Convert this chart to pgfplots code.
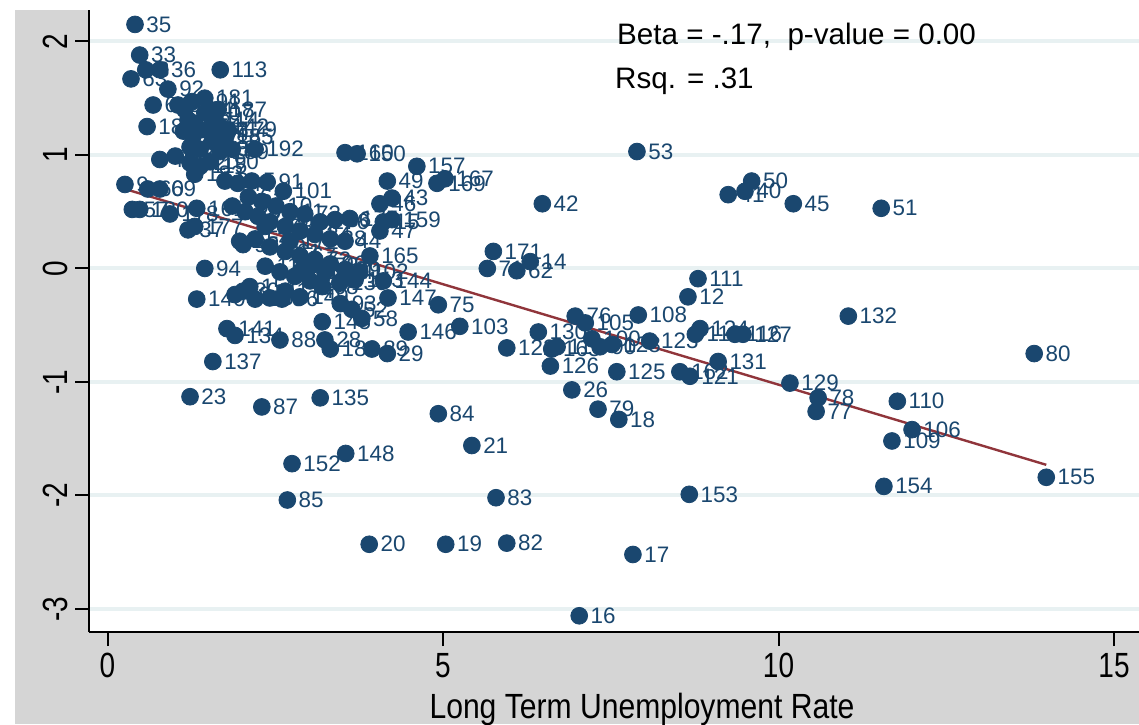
\documentclass[border=0pt]{standalone}
\usepackage{pgfplots}
\pgfplotsset{compat=1.18}
\usepackage{fontspec}
\setmainfont{Liberation Sans}
\definecolor{navy}{RGB}{26,71,111}
\definecolor{maroonS}{RGB}{144,53,59}
\definecolor{bggray}{RGB}{213,213,213}
\definecolor{gridc}{RGB}{232,241,242}
\newcommand\nar[1]{\scalebox{0.8}[1]{#1}}
\pgfplotstableread{
x y lab
0.41 2.15 35
0.48 1.88 33
0.57 1.75 3
0.78 1.75 36
0.35 1.67 63
1.68 1.75 113
0.90 1.58 92
0.68 1.44 64
1.45 1.50 181
0.59 1.25 184
1.80 1.22 179
1.75 1.16 185
2.20 1.05 192
1.86 1.05 8
1.30 0.83 183
2.38 0.76 91
2.62 0.68 101
0.26 0.74 9
0.78 0.70 69
0.60 0.70 60
0.37 0.52 57
0.48 0.52 180
0.93 0.48 178
1.33 0.53 161
1.20 0.34 37
1.30 0.37 177
2.02 0.21 95
1.45 0.00 94
1.33 -0.27 140
1.78 -0.53 141
1.90 -0.59 134
2.57 -0.63 88
1.57 -0.82 137
1.23 -1.13 23
2.30 -1.22 87
3.17 -1.14 135
2.75 -1.72 152
3.55 -1.63 148
2.68 -2.04 85
3.90 -2.43 20
5.04 -2.43 19
5.95 -2.42 82
5.79 -2.02 83
4.93 -1.28 84
5.43 -1.56 21
7.03 -3.06 16
7.83 -2.52 17
8.67 -1.99 153
11.57 -1.92 154
13.99 -1.84 155
11.69 -1.52 109
11.99 -1.42 106
11.77 -1.17 110
10.56 -1.26 77
10.59 -1.14 78
10.17 -1.01 129
13.81 -0.75 80
11.04 -0.42 132
9.10 -0.82 131
8.68 -0.95 121
8.53 -0.91 162
7.59 -0.91 125
9.47 -0.58 127
8.83 -0.53 124
8.76 -0.58 119
9.35 -0.58 116
8.08 -0.64 123
7.91 -0.41 108
8.65 -0.25 12
8.80 -0.09 111
7.52 -0.67 128
7.22 -0.62 100
7.34 -0.69 90
6.97 -0.42 76
7.12 -0.48 105
6.42 -0.56 130
5.95 -0.70 122
6.62 -0.71 163
6.70 -0.69 118
6.60 -0.86 126
6.92 -1.07 26
7.31 -1.24 79
7.62 -1.33 18
5.25 -0.51 103
4.48 -0.56 146
4.93 -0.32 75
4.18 -0.26 147
4.11 -0.11 144
3.79 -0.44 58
3.47 -0.31 93
3.64 -0.36 52
3.20 -0.47 145
3.24 -0.63 28
3.32 -0.71 182
3.94 -0.71 89
4.17 -0.75 29
3.91 0.11 165
3.61 0.44 175
4.11 0.41 15
4.24 0.43 159
4.06 0.33 47
4.06 0.57 46
4.24 0.62 43
4.17 0.77 49
4.61 0.90 157
4.91 0.75 169
5.03 0.79 167
3.54 1.02 160
3.72 1.01 150
6.48 0.57 42
5.75 0.15 171
5.66 0.00 71
6.10 -0.02 62
6.30 0.06 14
7.89 1.03 53
9.60 0.77 50
9.50 0.68 40
9.25 0.65 41
10.22 0.57 45
11.53 0.53 51
3.20 -0.16 68
2.60 -0.27 66
2.42 -0.26 56
2.20 -0.27 156
1.90 -0.23 39
2.02 -0.20 30
1.05 1.44 97
1.15 1.40 104
1.26 1.47 191
1.20 1.31 74
1.30 1.28 98
1.45 1.37 107
1.56 1.31 114
1.65 1.40 187
1.13 1.21 170
1.27 1.16 117
1.38 1.22 173
1.53 1.21 27
1.68 1.25 142
1.23 1.07 81
1.38 1.05 186
1.56 1.12 188
1.68 1.03 189
0.78 0.96 48
1.01 0.99 55
1.23 0.93 32
1.38 0.90 115
1.53 0.94 190
1.75 0.77 2
1.94 0.75 4
2.15 0.77 5
2.10 0.63 6
2.30 0.59 7
2.51 0.55 10
2.72 0.50 11
2.94 0.48 73
3.17 0.41 176
3.39 0.43 86
1.86 0.55 13
2.05 0.50 70
2.24 0.46 22
2.42 0.41 24
2.65 0.37 25
2.87 0.33 31
3.09 0.30 34
3.32 0.26 38
3.54 0.24 44
1.97 0.24 1
2.20 0.26 54
2.42 0.19 59
2.65 0.15 61
2.87 0.11 67
3.09 0.08 72
3.32 0.04 96
3.54 -0.01 99
3.76 -0.03 102
2.35 0.02 112
2.57 -0.03 133
2.79 -0.07 136
3.02 -0.11 138
3.46 -0.13 139
3.69 -0.10 143
2.87 -0.25 149
2.12 -0.16 151
3.02 0.02 158
3.24 -0.03 164
2.87 -0.03 166
2.35 0.37 168
2.72 0.24 172
2.65 -0.20 174
}\pts
\begin{document}
\begin{tikzpicture}
\useasboundingbox (0,0) rectangle (569.5pt,362pt);
\fill[bggray] (7.5pt,0) rectangle (569.5pt,357pt);
\begin{axis}[
  at={(44.5pt,46pt)}, anchor=south west, scale only axis,
  width=525pt, height=311pt,
  xmin=-0.2757, xmax=15.372, ymin=-3.203, ymax=2.277,
  axis lines*=left,
  axis line style={black, line width=1pt},
  axis background/.style={fill=white},
  clip=false,
  xtick={0,5,10,15},
  xticklabels={\nar{0},\nar{5},\nar{10},\nar{15}},
  ytick={-3,-2,-1,0,1,2},
  yticklabels={\nar{-3},\nar{-2},\nar{-1},\nar{0},\nar{1},\nar{2}},
  tick align=outside,
  major tick length=7pt,
  tick style={black, line width=1pt},
  ymajorgrids,
  grid style={gridc, line width=2pt},
  ticklabel style={font=\fontsize{17.5}{20}\selectfont},
  yticklabel style={rotate=90, anchor=south},
  xlabel={\scalebox{0.86}[1]{Long Term Unemployment Rate}},
  xlabel style={font=\fontsize{17.5}{20}\selectfont, xshift=14pt, yshift=-1pt},
]
\addplot[only marks, mark=*, mark size=4.2pt, color=navy,
  nodes near coords, point meta=explicit symbolic,
  nodes near coords style={anchor=west, xshift=5.5pt, inner sep=0pt,
    font=\fontsize{11.2}{13}\selectfont, text=navy}]
  table[x=x, y=y, meta=lab] {\pts};
\addplot[maroonS, line width=1.2pt] coordinates {(0.26,0.70) (13.99,-1.73)};
\node[anchor=west, inner sep=0pt, font=\fontsize{14.8}{17}\selectfont] at (axis cs:7.59,2.044) {Beta = -.17,\ \ p-value = 0.00};
\node[anchor=west, inner sep=0pt, font=\fontsize{14.8}{17}\selectfont] at (axis cs:7.56,1.648) {Rsq. = .31};
\end{axis}
\end{tikzpicture}
\end{document}
